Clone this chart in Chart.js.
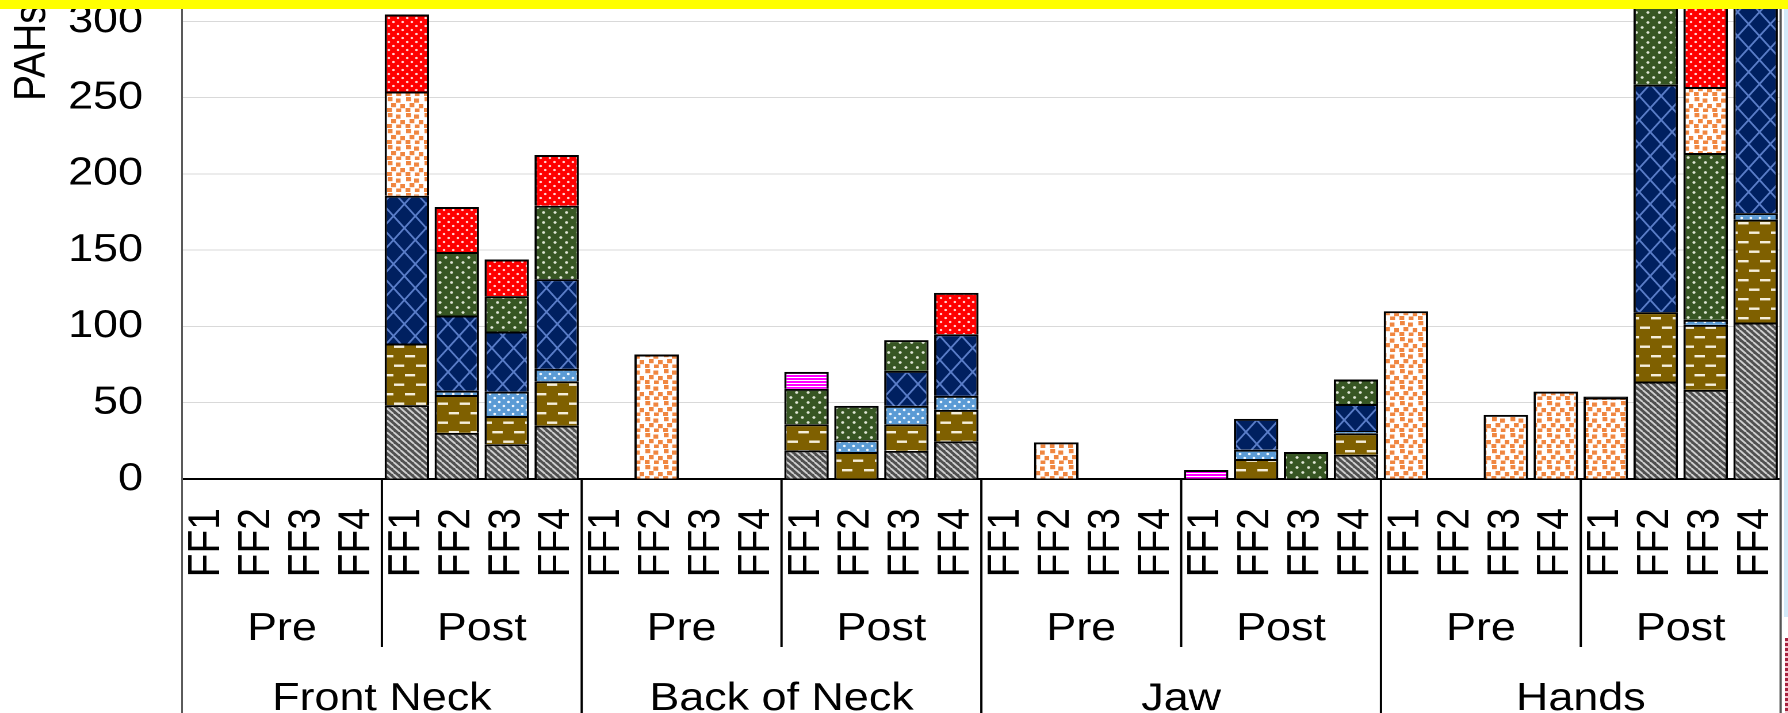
<!DOCTYPE html>
<html>
<head>
<meta charset="utf-8">
<script src="https://cdn.jsdelivr.net/npm/chart.js@4.4.1/dist/chart.umd.min.js"></script>
<style>
  html, body { margin: 0; padding: 0; background: #fff; overflow: hidden; }
  #stage { position: relative; width: 1788px; height: 713px; overflow: hidden; background: #fff; }
  #wrap { position: absolute; left: 0; top: 0; height: 713px; transform-origin: 0 0; }
  #topband { position: absolute; left: 0; top: 0; width: 1788px; height: 9px; background: #ffff00; }
  #edgeBlue { position: absolute; left: 1784px; top: 9px; width: 4px; height: 608px; background: #d3e9f8; }
  #edgeRed { position: absolute; left: 1785px; top: 638px; width: 3px; height: 75px;
             background: repeating-linear-gradient(#a8213f 0 3px, #f2c6d0 3px 5px); }
</style>
</head>
<body>
<div id="stage">
  <div id="wrap"><canvas id="chart"></canvas></div>
  <div id="topband"></div>
  <div id="edgeBlue"></div>
  <div id="edgeRed"></div>
</div>
<script>
// ---- categories ----
const bodyAreas = ['Front Neck', 'Back of Neck', 'Jaw', 'Hands'];
const phases = ['Pre', 'Post'];
const firefighters = ['FF1', 'FF2', 'FF3', 'FF4'];
const yTicks = [0, 50, 100, 150, 200, 250, 300];
const yTitle = 'PAHs (ng)';

// ---- stacked series, one value per bar (area > phase > firefighter) ----
const seriesNames = ['PAH group 1', 'PAH group 2', 'PAH group 3', 'PAH group 4',
                     'PAH group 5', 'PAH group 6', 'PAH group 7', 'PAH group 8'];
const group1 = [null, null, null, null, 48.4, 30.2, 22.8, 35.0,
                null, null, null, null, 18.8, null, 18.4, 24.7,
                null, null, null, null, null, null, null, 15.9,
                null, null, null, null, null, 63.9, 58.4, 102.6];
const group2 = [null, null, null, null, 40.4, 24.9, 18.5, 29.1,
                null, null, null, null, 17.1, 17.7, 17.5, 20.6,
                null, null, null, null, null, 13.1, null, 14.1,
                null, null, null, null, null, 45.5, 42.6, 67.4];
const group3 = [null, null, null, null, null, 2.8, 16.0, 8.1,
                null, null, null, null, null, 7.7, 12.0, 9.2,
                null, null, null, null, null, 6.1, null, 1.5,
                null, null, null, null, null, null, 3.3, 4.3];
const group4 = [null, null, null, null, 96.9, 49.3, 39.4, 58.8,
                null, null, null, null, null, null, 23.0, 40.4,
                null, null, null, null, null, 20.2, null, 17.7,
                null, null, null, null, null, 149.1, null, 160.0];
const group5 = [null, null, null, null, null, 41.6, 23.2, 48.1,
                null, null, null, null, 23.2, 22.5, 20.1, null,
                null, null, null, null, null, null, 17.7, 16.0,
                null, null, null, null, null, 71.5, 109.4, null];
const group6 = [null, null, null, null, 68.3, null, null, null,
                null, 81.6, null, null, null, null, null, null,
                null, 24.0, null, null, null, null, null, null,
                110.0, null, 42.0, 57.3, 53.4, null, 43.3, null];
const group7 = [null, null, null, null, 50.5, 29.5, 24.0, 33.3,
                null, null, null, null, null, null, null, 27.1,
                null, null, null, null, null, null, null, null,
                null, null, null, null, null, null, 83.0, null];
const group8 = [null, null, null, null, null, null, null, null,
                null, null, null, null, 11.1, null, null, null,
                null, null, null, null, 5.9, null, null, null,
                null, null, null, null, null, null, null, null];
// a thin dark cap on the Hands / Post / FF1 bar
const group9 = [null, null, null, null, null, null, null, null,
                null, null, null, null, null, null, null, null,
                null, null, null, null, null, null, null, null,
                null, null, null, null, 0.6, null, null, null];

// ---- page geometry ----
const SX = 1.15;                 // horizontal stretch of the drawing
const PAGE_W = 1788, PAGE_H = 713;
const CANVAS_W = PAGE_W / SX;
const FONT = '"Liberation Sans", Arial, sans-serif';
const FONT_SIZE = 39;

const wrap = document.getElementById('wrap');
wrap.style.width = CANVAS_W + 'px';
wrap.style.transform = 'scaleX(' + SX + ')';

// x labels: one per bar
const xLabels = [];
bodyAreas.forEach(() => phases.forEach(() => firefighters.forEach(f => xLabels.push(f))));

// ---- fill patterns ----
function tile(w, h, paint) {
  const k = 4;
  const c = document.createElement('canvas');
  c.width = Math.round(w * k); c.height = Math.round(h * k);
  const g = c.getContext('2d');
  g.scale(k, k);
  paint(g, w, h);
  const p = g.createPattern(c, 'repeat');
  p.setTransform(new DOMMatrix().scale(1 / k));
  return p;
}
function dots(g, pts, r, color) {
  g.fillStyle = color;
  pts.forEach(([x, y]) => { g.beginPath(); g.arc(x, y, r, 0, Math.PI * 2); g.fill(); });
}
const fills = [
  // dark grey with light diagonal hatching
  tile(6, 6, (g, w, h) => {
    g.fillStyle = '#505050'; g.fillRect(0, 0, w, h);
    g.strokeStyle = '#cfcfcf'; g.lineWidth = 1.8;
    [-w, 0, w].forEach(o => { g.beginPath(); g.moveTo(o, 0); g.lineTo(o + w, h); g.stroke(); });
  }),
  // olive brown with short light dashes
  tile(19, 19, (g, w, h) => {
    g.fillStyle = '#7f6000'; g.fillRect(0, 0, w, h);
    g.fillStyle = '#f5eedb';
    g.fillRect(0.5, 3.5, 9, 2.4); g.fillRect(10, 13, 9, 2.4);
  }),
  // light blue with white dots
  tile(8, 8, (g, w, h) => {
    g.fillStyle = '#5b9bd5'; g.fillRect(0, 0, w, h);
    dots(g, [[2, 2], [6, 6]], 1.2, '#f4f9ff');
  }),
  // navy with light blue diamond lattice
  tile(19, 24, (g, w, h) => {
    g.fillStyle = '#002060'; g.fillRect(0, 0, w, h);
    g.strokeStyle = '#5a7dc8'; g.lineWidth = 1.7;
    g.beginPath(); g.moveTo(0, 0); g.lineTo(w, h); g.stroke();
    g.beginPath(); g.moveTo(w, 0); g.lineTo(0, h); g.stroke();
  }),
  // dark green with pale dots
  tile(10, 10, (g, w, h) => {
    g.fillStyle = '#375623'; g.fillRect(0, 0, w, h);
    dots(g, [[2.5, 2.5], [7.5, 7.5]], 1.35, '#dfe6d5');
  }),
  // white with scattered orange squares
  tile(16, 16, (g, w, h) => {
    g.fillStyle = '#ffffff'; g.fillRect(0, 0, w, h);
    g.fillStyle = '#f08640';
    [[1, 1], [8, 2.5], [4, 7], [12, 8], [0.5, 12], [8.5, 12.5]]
      .forEach(([x, y]) => g.fillRect(x, y, 4.2, 4.2));
  }),
  // red with pale dots
  tile(8, 8, (g, w, h) => {
    g.fillStyle = '#ff0000'; g.fillRect(0, 0, w, h);
    dots(g, [[2, 2], [6, 6]], 1.15, '#ffd6d6');
  }),
  // magenta with fine white stripes
  tile(4, 3, (g, w, h) => {
    g.fillStyle = '#ff00ff'; g.fillRect(0, 0, w, h);
    g.fillStyle = '#ffffff'; g.fillRect(0, 2, w, 1);
  }),
  // plain dark fill
  '#1a1a1a'
];

const seriesData = [group1, group2, group3, group4, group5, group6, group7, group8, group9];
const datasets = seriesData.map((d, i) => ({
  label: seriesNames[i] || 'PAH group ' + (i + 1),
  data: d,
  backgroundColor: fills[i],
  borderColor: '#000000',
  borderWidth: 2,
  borderSkipped: 'start',
  stack: 'total'
}));

// ---- grouped category captions and divider lines under the x axis ----
const groupCaptions = {
  id: 'groupCaptions',
  afterDraw(chart) {
    const { ctx, chartArea } = chart;
    const x = chart.scales.x;
    const step = x.getPixelForValue(1) - x.getPixelForValue(0);
    const edge = i => x.getPixelForValue(i) - step / 2;
    const perArea = phases.length * firefighters.length;
    const bottom = chartArea.bottom;
    ctx.save();
    ctx.lineCap = 'butt';
    // phase dividers inside each area
    ctx.strokeStyle = '#000000'; ctx.lineWidth = 2;
    for (let a = 0; a < bodyAreas.length; a++) {
      for (let p = 1; p < phases.length; p++) {
        const xp = edge(a * perArea + p * firefighters.length);
        ctx.beginPath(); ctx.moveTo(xp, bottom); ctx.lineTo(xp, 647); ctx.stroke();
      }
    }
    // area dividers
    for (let a = 1; a <= bodyAreas.length; a++) {
      const xp = edge(a * perArea);
      ctx.strokeStyle = a === bodyAreas.length ? '#555555' : '#000000';
      ctx.beginPath(); ctx.moveTo(xp, a === bodyAreas.length ? chartArea.top : bottom);
      ctx.lineTo(xp, PAGE_H); ctx.stroke();
    }
    ctx.strokeStyle = '#595959'; ctx.lineWidth = 1.5;
    ctx.beginPath(); ctx.moveTo(edge(0), bottom); ctx.lineTo(edge(0), PAGE_H); ctx.stroke();

    ctx.fillStyle = '#000000';
    ctx.font = FONT_SIZE + 'px ' + FONT;
    ctx.textAlign = 'center';
    ctx.textBaseline = 'alphabetic';
    // phase and area captions
    for (let a = 0; a < bodyAreas.length; a++) {
      phases.forEach((ph, p) => {
        const start = a * perArea + p * firefighters.length;
        const cx = (edge(start) + edge(start + firefighters.length)) / 2;
        ctx.fillText(ph, cx, 640);
      });
      const cx = (edge(a * perArea) + edge((a + 1) * perArea)) / 2;
      ctx.fillText(bodyAreas[a], cx, 710);
    }
    // y axis title
    ctx.translate(39.2, 101);
    ctx.rotate(-Math.PI / 2);
    ctx.textAlign = 'left';
    ctx.fillText(yTitle, 0, 0);
    ctx.restore();
  }
};

new Chart(document.getElementById('chart'), {
  type: 'bar',
  data: { labels: xLabels, datasets },
  plugins: [groupCaptions],
  options: {
    responsive: true,
    maintainAspectRatio: false,
    animation: false,
    devicePixelRatio: 2,
    layout: { padding: { left: 0, top: 0, right: CANVAS_W - 1780 / SX, bottom: 0 } },
    plugins: { legend: { display: false }, tooltip: { enabled: false }, title: { display: false } },
    datasets: { bar: { categoryPercentage: 1.0, barPercentage: 0.89 } },
    scales: {
      x: {
        stacked: true,
        grid: { display: false, drawTicks: false },
        border: { display: true, color: '#000000', width: 2 },
        ticks: { autoSkip: false, minRotation: 90, maxRotation: 90, padding: 29,
                 color: '#000000', font: { family: FONT, size: FONT_SIZE } },
        afterFit(s) { s.height = PAGE_H - 479; s.paddingLeft = 0; s.paddingRight = 0; }
      },
      y: {
        stacked: true,
        min: 0,
        max: 314,
        afterBuildTicks(s) { s.ticks = yTicks.map(v => ({ value: v })); },
        grid: { color: '#d9d9d9', lineWidth: 1, drawTicks: false },
        border: { display: true, color: '#595959', width: 1.5 },
        ticks: { padding: 34, color: '#000000', font: { family: FONT, size: FONT_SIZE } },
        afterFit(s) { s.width = 182 / SX; s.paddingTop = 0; s.paddingBottom = 0; }
      }
    }
  }
});
</script>
</body>
</html>
